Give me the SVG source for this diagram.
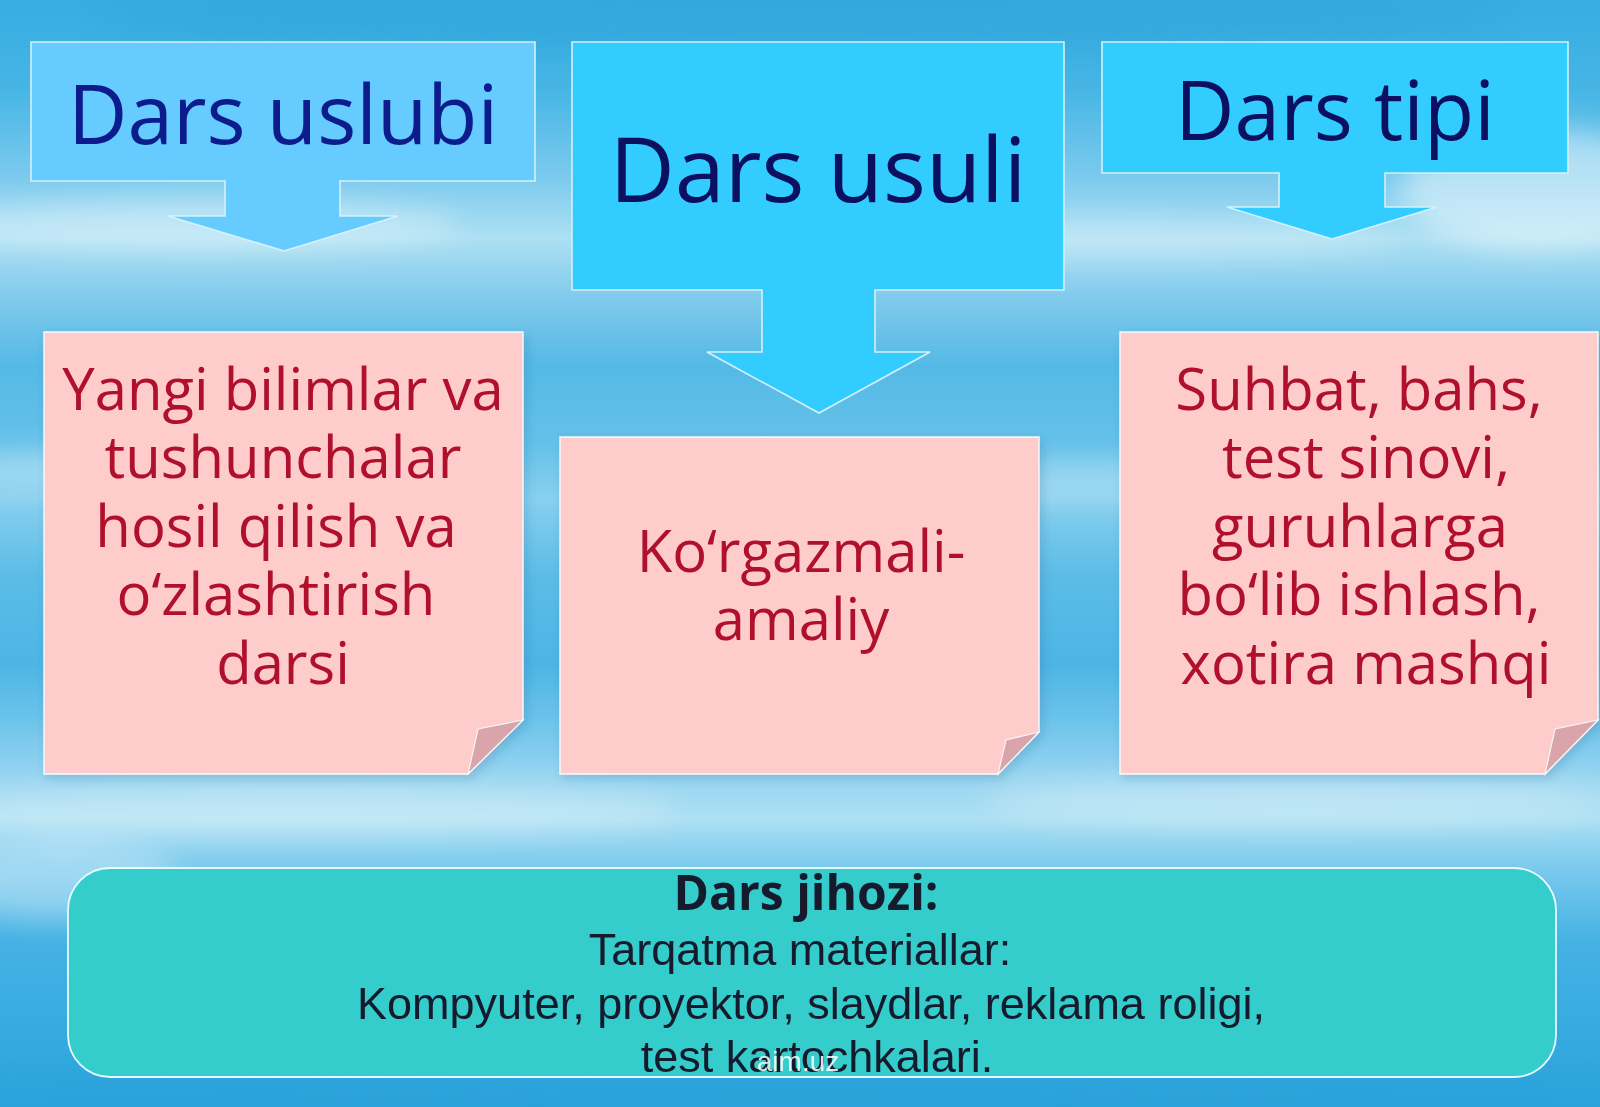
<svg xmlns="http://www.w3.org/2000/svg" width="1600" height="1107" viewBox="0 0 1600 1107">
  <defs>
    <linearGradient id="bg" x1="0" y1="0" x2="0" y2="1">
      <stop offset="0" stop-color="#36ade0"/>
      <stop offset="0.08" stop-color="#46b5e5"/>
      <stop offset="0.16" stop-color="#7ccaee"/>
      <stop offset="0.215" stop-color="#ade0f3"/>
      <stop offset="0.27" stop-color="#80caec"/>
      <stop offset="0.33" stop-color="#55b9e6"/>
      <stop offset="0.40" stop-color="#64c1e9"/>
      <stop offset="0.45" stop-color="#88d0ef"/>
      <stop offset="0.52" stop-color="#5cbce7"/>
      <stop offset="0.60" stop-color="#4db5e4"/>
      <stop offset="0.65" stop-color="#6cc3ea"/>
      <stop offset="0.70" stop-color="#96d4f0"/>
      <stop offset="0.74" stop-color="#ade0f3"/>
      <stop offset="0.78" stop-color="#7ecbee"/>
      <stop offset="0.85" stop-color="#45b2e4"/>
      <stop offset="1" stop-color="#2aa4dc"/>
    </linearGradient>
    <filter id="blur" x="-20%" y="-50%" width="140%" height="200%">
      <feGaussianBlur stdDeviation="14"/>
    </filter>
    <filter id="shadow" x="-5%" y="-5%" width="112%" height="115%">
      <feDropShadow dx="3" dy="4" stdDeviation="4" flood-color="#1a5a80" flood-opacity="0.2"/>
    </filter>
    <style>
      .hdr { stroke: #d4f1fc; stroke-width: 1.6; }
      .htext { font-family: "Open Sans", "Noto Sans", sans-serif; text-anchor: middle; }
      .note { fill: #ffcccc; stroke: #f4fbff; stroke-width: 1.4; }
      .fold { fill: #d9a5aa; stroke: #f6f6f8; stroke-width: 1.2; }
      .ntext { font-family: "Open Sans", "Noto Sans", sans-serif; font-size: 58px; fill: #b0102c; text-anchor: middle; }
      .btext { font-family: "Liberation Sans", Arial, sans-serif; font-size: 45px; fill: #151a2c; text-anchor: middle; }
    </style>
  </defs>

  <!-- background -->
  <rect x="0" y="0" width="1600" height="1107" fill="url(#bg)"/>
  <g filter="url(#blur)" fill="#ffffff">
    <ellipse cx="200" cy="225" rx="260" ry="26" opacity="0.35"/>
    <ellipse cx="1540" cy="190" rx="140" ry="60" opacity="0.45"/>
    <ellipse cx="1100" cy="240" rx="300" ry="20" opacity="0.25"/>
    <ellipse cx="120" cy="470" rx="220" ry="20" opacity="0.3"/>
    <ellipse cx="1080" cy="480" rx="160" ry="18" opacity="0.25"/>
    <ellipse cx="300" cy="810" rx="380" ry="26" opacity="0.28"/>
    <ellipse cx="1300" cy="800" rx="320" ry="24" opacity="0.28"/>
    <ellipse cx="60" cy="880" rx="120" ry="40" opacity="0.3"/>
  </g>
  <g filter="url(#blur)" fill="#2a9fd6" opacity="0.35">
    <ellipse cx="800" cy="20" rx="700" ry="30"/>
    <ellipse cx="800" cy="1095" rx="800" ry="30"/>
  </g>

  <!-- connectors: the down arrows are drawn as part of the header callouts -->
  <g id="connectors"></g>

  <!-- header callouts -->
  <g id="hdr-uslubi">
    <path class="hdr" fill="#66ccff" d="M31,42 H535 V181 H340 V216 H398 L284,251 L168,216 H225 V181 H31 Z"/>
    <text class="htext" x="283" y="144" font-size="82" fill="#0c1c8c">Dars uslubi</text>
  </g>
  <g id="hdr-usuli">
    <path class="hdr" fill="#33ccff" d="M572,42 H1064 V290 H875 V352 H930 L819,413 L707,352 H762 V290 H572 Z"/>
    <text class="htext" x="818" y="202" font-size="90" fill="#0c1060">Dars usuli</text>
  </g>
  <g id="hdr-tipi">
    <path class="hdr" fill="#33ccff" d="M1102,42 H1568 V173 H1385 V207 H1437 L1332,239 L1227,207 H1279 V173 H1102 Z"/>
    <text class="htext" x="1335" y="140" font-size="82" fill="#0c1060">Dars tipi</text>
  </g>

  <!-- notes -->
  <g id="note-uslubi">
    <polygon class="note" filter="url(#shadow)" points="44,332 523,332 523,720 468,774 44,774"/>
    <polygon class="fold" points="468,774 478,729 523,720"/>
    <text class="ntext" x="283" y="410">Yangi bilimlar va</text>
    <text class="ntext" x="283" y="478">tushunchalar</text>
    <text class="ntext" x="276" y="547">hosil qilish va</text>
    <text class="ntext" x="276" y="615">o‘zlashtirish</text>
    <text class="ntext" x="283" y="684">darsi</text>
  </g>
  <g id="note-usuli">
    <polygon class="note" filter="url(#shadow)" points="560,437 1039,437 1039,732 998,774 560,774"/>
    <polygon class="fold" points="998,774 1006,740 1039,732"/>
    <text class="ntext" x="801" y="572">Ko‘rgazmali-</text>
    <text class="ntext" x="801" y="640">amaliy</text>
  </g>
  <g id="note-tipi">
    <polygon class="note" filter="url(#shadow)" points="1120,332 1598,332 1598,720 1545,774 1120,774"/>
    <polygon class="fold" points="1545,774 1555,729 1598,720"/>
    <text class="ntext" x="1359" y="410">Suhbat, bahs,</text>
    <text class="ntext" x="1366" y="478">test sinovi,</text>
    <text class="ntext" x="1360" y="547">guruhlarga</text>
    <text class="ntext" x="1359" y="615">bo‘lib ishlash,</text>
    <text class="ntext" x="1366" y="684">xotira mashqi</text>
  </g>

  <!-- equipment box -->
  <g id="jihoz">
    <rect x="68" y="868" width="1488" height="209" rx="42" ry="42" fill="#35cccc" stroke="#e6fbff" stroke-width="1.8"/>
    <text x="806" y="910" font-family="'Open Sans', 'Noto Sans', sans-serif" font-weight="bold" font-size="48" fill="#151a2c" text-anchor="middle">Dars jihozi:</text>
    <text class="btext" x="800" y="965">Tarqatma materiallar:</text>
    <text class="btext" x="811" y="1019">Kompyuter, proyektor, slaydlar, reklama roligi,</text>
    <text class="btext" x="817" y="1072">test kartochkalari.</text>
    <text x="798" y="1071" font-family="'Liberation Sans', Arial, sans-serif" font-size="28" fill="#ffffff" fill-opacity="0.85" text-anchor="middle">aim.uz</text>
  </g>
</svg>
